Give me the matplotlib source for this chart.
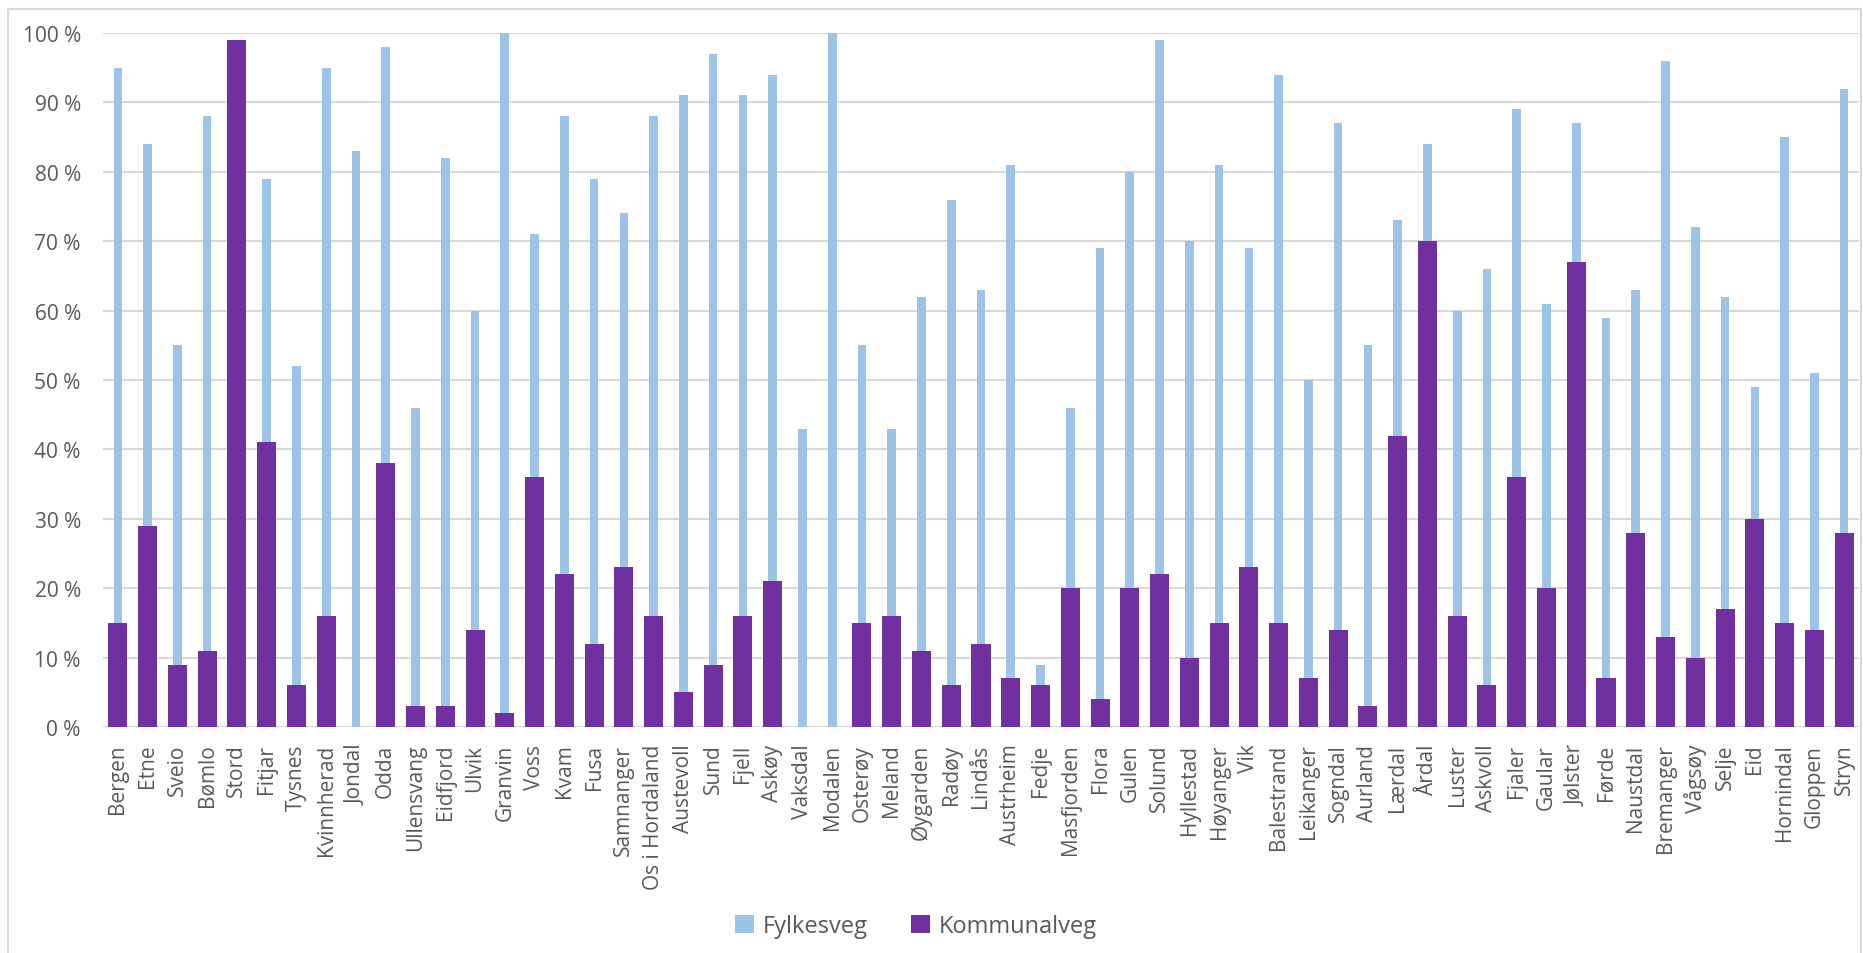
import matplotlib

matplotlib.use("Agg")
matplotlib.rcParams["font.family"] = ["Open Sans", "DejaVu Sans"]

import matplotlib.pyplot as plt
from matplotlib.patches import Rectangle
from matplotlib.ticker import FuncFormatter

kommuner = [
    "Bergen", "Etne", "Sveio", "Bømlo", "Stord", "Fitjar", "Tysnes", "Kvinnherad",
    "Jondal", "Odda", "Ullensvang", "Eidfjord", "Ulvik", "Granvin", "Voss", "Kvam",
    "Fusa", "Samnanger", "Os i Hordaland", "Austevoll", "Sund", "Fjell", "Askøy",
    "Vaksdal", "Modalen", "Osterøy", "Meland", "Øygarden", "Radøy", "Lindås",
    "Austrheim", "Fedje", "Masfjorden", "Flora", "Gulen", "Solund", "Hyllestad",
    "Høyanger", "Vik", "Balestrand", "Leikanger", "Sogndal", "Aurland", "Lærdal",
    "Årdal", "Luster", "Askvoll", "Fjaler", "Gaular", "Jølster", "Førde", "Naustdal",
    "Bremanger", "Vågsøy", "Selje", "Eid", "Hornindal", "Gloppen", "Stryn",
]
fylkesveg = [
    95, 84, 55, 88, 0, 79, 52, 95, 83, 98, 46, 82, 60, 100, 71, 88,
    79, 74, 88, 91, 97, 91, 94, 43, 100, 55, 43, 62, 76, 63,
    81, 9, 46, 69, 80, 99, 70, 81, 69, 94, 50, 87, 55, 73,
    84, 60, 66, 89, 61, 87, 59, 63, 96, 72, 62, 49, 85, 51, 92,
]
kommunalveg = [
    15, 29, 9, 11, 99, 41, 6, 16, 0, 38, 3, 3, 14, 2, 36, 22,
    12, 23, 16, 5, 9, 16, 21, 0, 0, 15, 16, 11, 6, 12,
    7, 6, 20, 4, 20, 22, 10, 15, 23, 15, 7, 14, 3, 42,
    70, 16, 6, 36, 20, 67, 7, 28, 13, 10, 17, 30, 15, 14, 28,
]

BLUE = "#9dc3e6"
PURPLE = "#7030a0"
GRID = "#d9d9d9"
TEXT = "#595959"

fig = plt.figure(figsize=(18.63, 9.54), dpi=100)
ax = fig.add_axes([103 / 1863, 226 / 954, 1756 / 1863, 694 / 954])

x = range(len(kommuner))
ax.bar(x, fylkesveg, width=0.29, color=BLUE, label="Fylkesveg", zorder=2)
ax.bar(x, kommunalveg, width=0.64, color=PURPLE, label="Kommunalveg", zorder=3)

ax.set_xlim(-0.5, len(kommuner) - 0.5)
ax.set_ylim(0, 100)
ax.set_yticks(range(0, 101, 10))
ax.yaxis.set_major_formatter(FuncFormatter(lambda v, _: f"{int(v)} %"))
ax.set_xticks(list(x))
ax.set_xticklabels(kommuner, rotation=90, ha="center", va="top")
ax.tick_params(axis="y", length=0, pad=16, labelsize=15, labelcolor=TEXT)
ax.tick_params(axis="x", length=0, pad=12, labelsize=15, labelcolor=TEXT)

ax.yaxis.grid(True, color=GRID, linewidth=1.5)
ax.set_axisbelow(True)
for s in ax.spines.values():
    s.set_visible(False)

leg = fig.legend(loc="center", bbox_to_anchor=(916 / 1863, 1 - 927 / 954), ncol=2,
                 frameon=False, fontsize=17, handlelength=0.8, handleheight=0.8,
                 handletextpad=0.4, columnspacing=1.8)
for t in leg.get_texts():
    t.set_color(TEXT)

# ytre ramme rundt diagrammet
fig.add_artist(Rectangle((8 / 1863, -0.05), 1853 / 1863, 1.05 - 10 / 954,
                         transform=fig.transFigure, fill=False, edgecolor=GRID, linewidth=1.5))

fig.savefig("out.png", facecolor="white")
